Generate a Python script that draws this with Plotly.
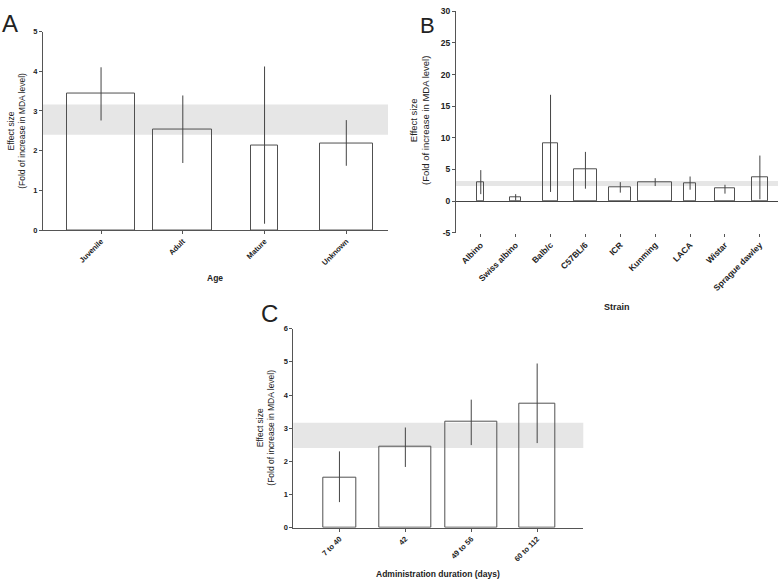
import plotly.graph_objects as go

# ---------------- data ----------------
age_cats = ["Juvenile", "Adult", "Mature", "Unknown"]
age_vals = [3.43, 2.54, 2.13, 2.19]
age_hi = [4.10, 3.39, 4.12, 2.77]
age_lo = [2.76, 1.69, 0.16, 1.62]
age_widths = [0.83, 0.72, 0.33, 0.65]

strain_cats = ["Albino", "Swiss albino", "Balb/c", "C57BL/6", "ICR", "Kunming",
               "LACA", "Wistar", "Sprague dawley"]
strain_vals = [3.0, 0.56, 9.18, 4.98, 2.18, 3.0, 2.85, 1.96, 3.78]
strain_hi = [4.9, 1.1, 16.8, 7.78, 3.0, 3.62, 3.89, 2.58, 7.2]
strain_lo = [1.1, 0.1, 1.45, 1.96, 1.34, 2.38, 1.8, 1.18, 0.3]
strain_widths = [0.2, 0.3, 0.41, 0.64, 0.63, 0.98, 0.33, 0.6, 0.45]
strain_yticks = [-5, 0, 5, 10, 15, 20, 25, 30]
strain_yticklabels = ["-5", "0", "5", "10", "15", "20", "25", "30"]

dur_cats = ["7 to 40", "42", "49 to 56", "60 to 112"]
dur_vals = [1.52, 2.43, 3.19, 3.75]
dur_hi = [2.30, 3.02, 3.86, 4.95]
dur_lo = [0.77, 1.83, 2.49, 2.55]
dur_widths = [0.5, 0.78, 0.78, 0.54]

band_lo, band_hi = 2.40, 3.16

# ---------------- styling ----------------
FONT = "Liberation Sans"
AX = "#555555"
W, H = 780, 587

fig = go.Figure()


def add_bars(cats, vals, hi, lo, widths, xa, ya):
    fig.add_trace(go.Bar(
        x=list(range(len(cats))), y=vals, width=widths,
        marker=dict(color="rgba(0,0,0,0)", line=dict(color="#505050", width=1)),
        error_y=dict(type="data", symmetric=False,
                     array=[h - v for h, v in zip(hi, vals)],
                     arrayminus=[v - l for l, v in zip(lo, vals)],
                     width=0, thickness=1, color="#444444"),
        xaxis=xa, yaxis=ya, showlegend=False, hoverinfo="skip"))


add_bars(age_cats, age_vals, age_hi, age_lo, age_widths, "x", "y")
add_bars(strain_cats, strain_vals, strain_hi, strain_lo, strain_widths, "x2", "y2")
add_bars(dur_cats, dur_vals, dur_hi, dur_lo, dur_widths, "x3", "y3")


def px_x(p):
    return p / W


def px_y(p):
    return 1 - p / H


def xaxis(cats, dom, rng, fs, line=True):
    return dict(domain=dom, range=rng, tickmode="array",
                tickvals=list(range(len(cats))), ticktext=cats,
                tickangle=-45, ticks="outside", ticklen=3, tickcolor=AX,
                showline=line, linecolor=AX, linewidth=1, showgrid=False,
                zeroline=False,
                tickfont=dict(family=FONT, size=fs, color="#222", weight="bold"))


def yaxis(dom, rng, dt, fs, xa, zl=False):
    return dict(domain=dom, range=rng, dtick=dt, anchor=xa, ticks="outside",
                ticklen=3, tickcolor=AX, showline=True, linecolor=AX,
                linewidth=1, showgrid=False, zeroline=zl,
                zerolinecolor="#444444", zerolinewidth=1,
                tickfont=dict(family=FONT, size=fs, color="#222", weight="bold"))


y2 = yaxis([px_y(231.7), px_y(6.4)], [-5, 30], 5, 8.5, "x2", zl=True)
y2.update(tickmode="array", tickvals=strain_yticks, ticktext=strain_yticklabels)

fig.update_layout(
    width=W, height=H, margin=dict(l=0, r=0, t=0, b=0),
    paper_bgcolor="white", plot_bgcolor="white", bargap=0,
    xaxis=dict(anchor="y", **xaxis(age_cats, [px_x(43), px_x(388)], [-0.71, 3.51], 7.5)),
    yaxis=yaxis([px_y(229), px_y(27)], [0, 5], 1, 7.5, "x"),
    xaxis2=dict(anchor="y2", **xaxis(strain_cats, [px_x(456), px_x(778)], [-0.71, 8.52], 8.5, line=False)),
    yaxis2=y2,
    xaxis3=dict(anchor="y3", **xaxis(dur_cats, [px_x(293.3), px_x(583.3)], [-0.70, 3.70], 7.5)),
    yaxis3=yaxis([px_y(531.7), px_y(329.3)], [0, 6], 1, 7.5, "x3"),
)

# shaded overall-effect band
for xr, yr in [("x domain", "y"), ("x2 domain", "y2"), ("x3 domain", "y3")]:
    fig.add_shape(type="rect", xref=xr, yref=yr, x0=0, x1=1, y0=band_lo, y1=band_hi,
                  fillcolor="#e6e6e6", line=dict(width=0), layer="below")

ytitle = "Effect size<br>(Fold of increase in MDA level)"


def ann(text, x, y, size, bold=False, angle=0):
    fig.add_annotation(text=text, x=px_x(x), y=px_y(y), xref="paper", yref="paper",
                       showarrow=False, textangle=angle, xanchor="center",
                       yanchor="middle",
                       font=dict(family=FONT, size=size, color="#222",
                                 weight="bold" if bold else "normal"))


# panel letters
ann("A", 10, 18.5, 24)
ann("B", 427, 21, 22)
ann("C", 269, 314, 24)

# axis titles
ann("Age", 215, 278, 8.5, bold=True)
ann("Strain", 617, 307, 9, bold=True)
ann("Administration duration (days)", 438, 579, 8.5, bold=True)
ann(ytitle, 17, 128, 8.5, angle=-90)
ann(ytitle, 420, 118, 9.5, angle=-90)
ann(ytitle, 266, 430, 8.5, angle=-90)

fig.write_html("out.html", config={"displayModeBar": False},
               post_script="document.body.style.margin='0';document.body.style.overflow='hidden';")
